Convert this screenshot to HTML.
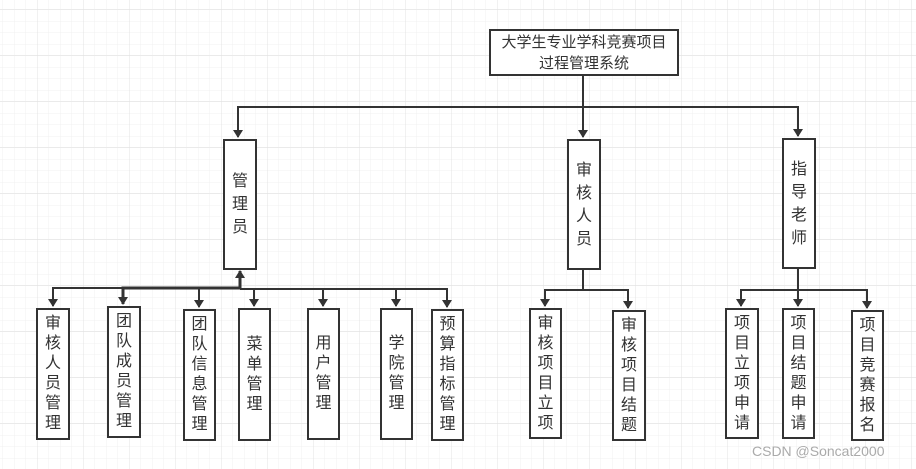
<!DOCTYPE html>
<html><head><meta charset="utf-8"><style>
html,body{margin:0;padding:0;background:#fff;}
body{width:916px;height:469px;position:relative;overflow:hidden;font-family:"Liberation Sans","Noto Sans CJK SC",sans-serif;}
.b{position:absolute;box-sizing:border-box;border:2px solid #333;background:#fff;display:flex;align-items:center;justify-content:center;text-align:center;color:#333;font-size:16px;line-height:20px;}
.v{width:18px;word-break:break-all;}
svg{position:absolute;left:0;top:0;}
</style></head><body>
<svg width="916" height="469">
<defs>
<pattern id="g" x="2.5" y="9.5" width="11.5" height="11.5" patternUnits="userSpaceOnUse">
<path d="M0 0V11.5M0 0H11.5" stroke="#f0f0f0" stroke-width="1" fill="none"/>
</pattern>
<pattern id="G" x="37" y="55" width="46" height="46" patternUnits="userSpaceOnUse">
<path d="M0 0V46M0 0H46" stroke="#e3e3e3" stroke-width="1" fill="none"/>
</pattern>
<marker id="a" markerWidth="8" markerHeight="10" refX="7" refY="5" orient="auto" markerUnits="userSpaceOnUse"><path d="M0 0L8 5L0 10Z" fill="#333"/></marker>
</defs>
<rect width="916" height="469" fill="url(#g)"/>
<rect width="916" height="469" fill="url(#G)"/>
<g stroke="#333" stroke-width="2" fill="none">
<path d="M583 75V107"/>
<path d="M583 107H238V137" marker-end="url(#a)"/>
<path d="M583 107V137" marker-end="url(#a)"/>
<path d="M583 107H798V136" marker-end="url(#a)"/>
<path d="M240 288H53V306" marker-end="url(#a)"/>
<path d="M240 288H123V304" stroke-width="3" marker-end="url(#a)"/>
<path d="M199 288V307" marker-end="url(#a)"/>
<path d="M254 288V306" marker-end="url(#a)"/>
<path d="M240 289H447V307" marker-end="url(#a)"/>
<path d="M323 289V306" marker-end="url(#a)"/>
<path d="M396 289V306" marker-end="url(#a)"/>
<path d="M240 289V271" stroke-width="3" marker-end="url(#a)"/>
<path d="M583 270V290H628V308" marker-end="url(#a)"/>
<path d="M583 290H545V306" marker-end="url(#a)"/>
<path d="M798 269V290H867V308" marker-end="url(#a)"/>
<path d="M798 290V306" marker-end="url(#a)"/>
<path d="M798 290H741V306" marker-end="url(#a)"/>
</g>
</svg>
<div class="b" style="left:489px;top:29px;width:190px;height:47px;font-size:15px;line-height:21px;padding:0 6px;">大学生专业学科竞赛项目过程管理系统</div>
<div class="b" style="left:223px;top:139px;width:34px;height:131px;line-height:23px;"><span class="v">管理员</span></div>
<div class="b" style="left:567px;top:139px;width:34px;height:131px;line-height:23px;"><span class="v">审核人员</span></div>
<div class="b" style="left:782px;top:138px;width:34px;height:131px;line-height:23px;"><span class="v">指导老师</span></div>
<div class="b" style="left:36px;top:308px;width:34px;height:132px;"><span class="v">审核人员管理</span></div>
<div class="b" style="left:107px;top:306px;width:34px;height:132px;"><span class="v">团队成员管理</span></div>
<div class="b" style="left:183px;top:309px;width:33px;height:132px;"><span class="v">团队信息管理</span></div>
<div class="b" style="left:238px;top:308px;width:33px;height:133px;"><span class="v">菜单管理</span></div>
<div class="b" style="left:307px;top:308px;width:33px;height:132px;"><span class="v">用户管理</span></div>
<div class="b" style="left:380px;top:308px;width:33px;height:132px;"><span class="v">学院管理</span></div>
<div class="b" style="left:431px;top:309px;width:33px;height:132px;"><span class="v">预算指标管理</span></div>
<div class="b" style="left:529px;top:308px;width:33px;height:131px;"><span class="v">审核项目立项</span></div>
<div class="b" style="left:612px;top:310px;width:34px;height:131px;"><span class="v">审核项目结题</span></div>
<div class="b" style="left:725px;top:308px;width:34px;height:131px;"><span class="v">项目立项申请</span></div>
<div class="b" style="left:782px;top:308px;width:33px;height:131px;"><span class="v">项目结题申请</span></div>
<div class="b" style="left:851px;top:310px;width:33px;height:131px;"><span class="v">项目竞赛报名</span></div>
<div style="position:absolute;left:752px;top:443px;font-size:14px;color:#aaa;white-space:nowrap;">CSDN @Soncat2000</div>
</body></html>
